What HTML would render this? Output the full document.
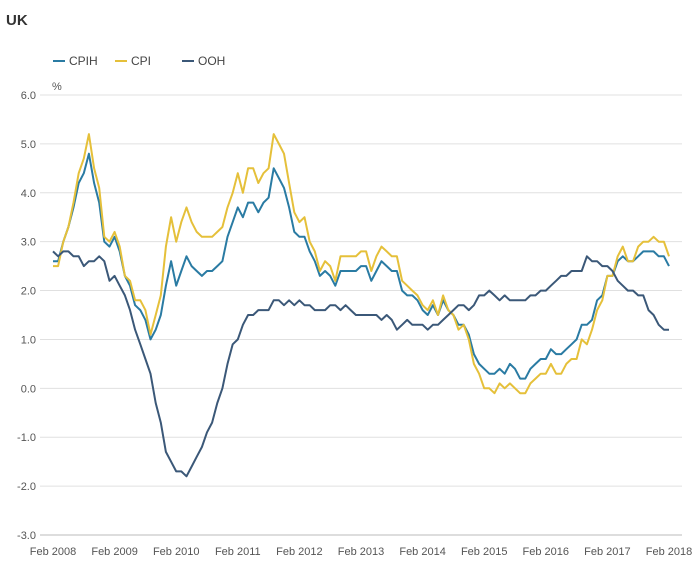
<!DOCTYPE html>
<html><head><meta charset="utf-8"><style>
body{margin:0;background:#fff;font-family:"Liberation Sans",sans-serif;}
svg text{font-family:"Liberation Sans",sans-serif;}
</style></head><body>
<svg id="chart" width="694" height="573">
<text x="6" y="25" font-size="15" font-weight="bold" fill="#333">UK</text>
<g id="legend"></g>
<text x="52" y="90" font-size="11" fill="#555">%</text>
<g id="grid"></g><g id="ylab"></g><g id="xlab"></g><g id="lines"></g>
</svg>
<script>
const yTicks=[6,5,4,3,2,1,0,-1,-2,-3];
const xTickLabels=["Feb 2008","Feb 2009","Feb 2010","Feb 2011","Feb 2012","Feb 2013","Feb 2014","Feb 2015","Feb 2016","Feb 2017","Feb 2018"];
const seriesNames=["CPIH","CPI","OOH"];
const cpih=[2.6,2.6,3.0,3.3,3.7,4.2,4.4,4.8,4.2,3.8,3.0,2.9,3.1,2.8,2.3,2.1,1.7,1.6,1.4,1.0,1.2,1.5,2.1,2.6,2.1,2.4,2.7,2.5,2.4,2.3,2.4,2.4,2.5,2.6,3.1,3.4,3.7,3.5,3.8,3.8,3.6,3.8,3.9,4.5,4.3,4.1,3.7,3.2,3.1,3.1,2.8,2.6,2.3,2.4,2.3,2.1,2.4,2.4,2.4,2.4,2.5,2.5,2.2,2.4,2.6,2.5,2.4,2.4,2.0,1.9,1.9,1.8,1.6,1.5,1.7,1.5,1.8,1.6,1.5,1.3,1.3,1.1,0.7,0.5,0.4,0.3,0.3,0.4,0.3,0.5,0.4,0.2,0.2,0.4,0.5,0.6,0.6,0.8,0.7,0.7,0.8,0.9,1.0,1.3,1.3,1.4,1.8,1.9,2.3,2.3,2.6,2.7,2.6,2.6,2.7,2.8,2.8,2.8,2.7,2.7,2.5];
const cpi=[2.5,2.5,3.0,3.3,3.8,4.4,4.7,5.2,4.5,4.1,3.1,3.0,3.2,2.9,2.3,2.2,1.8,1.8,1.6,1.1,1.5,1.9,2.9,3.5,3.0,3.4,3.7,3.4,3.2,3.1,3.1,3.1,3.2,3.3,3.7,4.0,4.4,4.0,4.5,4.5,4.2,4.4,4.5,5.2,5.0,4.8,4.2,3.6,3.4,3.5,3.0,2.8,2.4,2.6,2.5,2.2,2.7,2.7,2.7,2.7,2.8,2.8,2.4,2.7,2.9,2.8,2.7,2.7,2.2,2.1,2.0,1.9,1.7,1.6,1.8,1.5,1.9,1.6,1.5,1.2,1.3,1.0,0.5,0.3,0.0,0.0,-0.1,0.1,0.0,0.1,0.0,-0.1,-0.1,0.1,0.2,0.3,0.3,0.5,0.3,0.3,0.5,0.6,0.6,1.0,0.9,1.2,1.6,1.8,2.3,2.3,2.7,2.9,2.6,2.6,2.9,3.0,3.0,3.1,3.0,3.0,2.7];
const ooh=[2.8,2.7,2.8,2.8,2.7,2.7,2.5,2.6,2.6,2.7,2.6,2.2,2.3,2.1,1.9,1.6,1.2,0.9,0.6,0.3,-0.3,-0.7,-1.3,-1.5,-1.7,-1.7,-1.8,-1.6,-1.4,-1.2,-0.9,-0.7,-0.3,0.0,0.5,0.9,1.0,1.3,1.5,1.5,1.6,1.6,1.6,1.8,1.8,1.7,1.8,1.7,1.8,1.7,1.7,1.6,1.6,1.6,1.7,1.7,1.6,1.7,1.6,1.5,1.5,1.5,1.5,1.5,1.4,1.5,1.4,1.2,1.3,1.4,1.3,1.3,1.3,1.2,1.3,1.3,1.4,1.5,1.6,1.7,1.7,1.6,1.7,1.9,1.9,2.0,1.9,1.8,1.9,1.8,1.8,1.8,1.8,1.9,1.9,2.0,2.0,2.1,2.2,2.3,2.3,2.4,2.4,2.4,2.7,2.6,2.6,2.5,2.5,2.4,2.2,2.1,2.0,2.0,1.9,1.9,1.6,1.5,1.3,1.2,1.2];
const colors=["#2a7ba3","#e5c03a","#3b5878"];
const NS="http://www.w3.org/2000/svg";
const X0=53,X1=669,Y6=95,Ym3=535;
function xs(i){return X0+(X1-X0)*i/120;}
function ys(v){return Y6+(6-v)*(Ym3-Y6)/9;}
function mk(t,a,p){const e=document.createElementNS(NS,t);for(const k in a)e.setAttribute(k,a[k]);p.appendChild(e);return e;}
const grid=document.getElementById('grid'),ylab=document.getElementById('ylab'),xlab=document.getElementById('xlab'),lines=document.getElementById('lines'),leg=document.getElementById('legend');
yTicks.forEach(v=>{
  const l=mk('line',{x1:40,x2:682,y1:ys(v),y2:ys(v),stroke:v===-3?'#bbb':'#e0e0e0','stroke-width':1},grid);
  
  
  const t=mk('text',{x:36,y:ys(v)+4,'text-anchor':'end','font-size':11,fill:'#555'},ylab);
  t.textContent=v.toFixed(1);
  
  
});
xTickLabels.forEach((s,i)=>{
  const t=mk('text',{x:xs(i*12),y:555,'text-anchor':'middle','font-size':11,fill:'#555'},xlab);
  t.textContent=s;
  
  
});
[cpih,cpi,ooh].forEach((arr,si)=>{
  const d=arr.map((v,i)=>(i?'L':'M')+xs(i).toFixed(1)+','+ys(v).toFixed(1)).join('');
  const p=mk('path',{d:d,fill:'none',stroke:colors[si],'stroke-width':2,'stroke-linejoin':'round'},lines);
  
  
});
const lx=[53,115,182];
seriesNames.forEach((n,i)=>{
  const l=mk('line',{x1:lx[i],x2:lx[i]+12,y1:61,y2:61,stroke:colors[i],'stroke-width':2},leg);
  
  
  const t=mk('text',{x:lx[i]+16,y:65,'font-size':12,fill:'#444'},leg);
  t.textContent=n;
  
  
});
</script>
</body></html>
